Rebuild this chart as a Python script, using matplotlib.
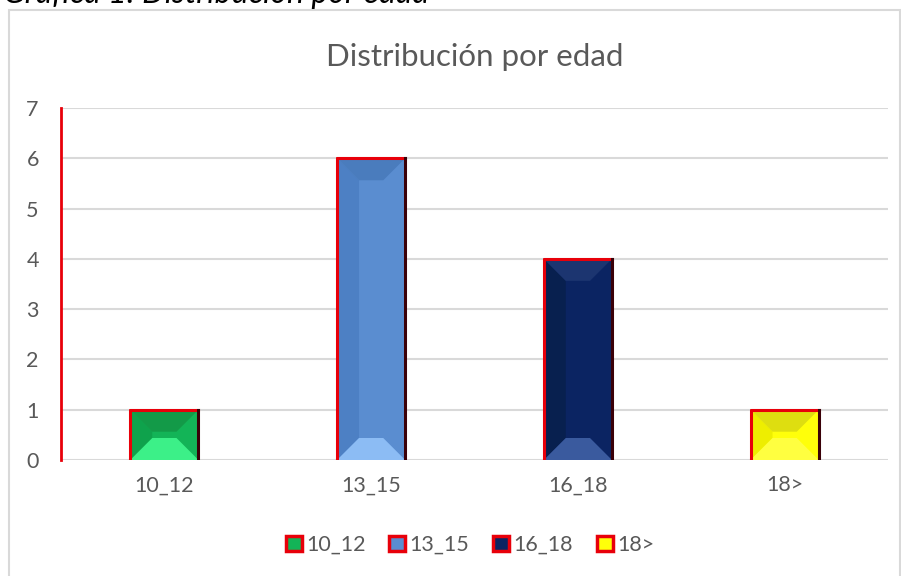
import matplotlib
matplotlib.use("Agg")
import matplotlib.pyplot as plt
from matplotlib.patches import Polygon, Rectangle, Patch

# datos
categorias = ["10_12", "13_15", "16_18", "18>"]
valores = [1, 6, 4, 1]

# colores: cuerpo, bisel superior, bisel inferior, lado izquierdo
COL_BODY = ["#13b457", "#5a8dd0", "#0b2462", "#ffff0a"]
COL_TOP = ["#139a48", "#4a7cbd", "#1c3570", "#dede10"]
COL_BOT = ["#3cf088", "#8cbcf4", "#3a5a9e", "#ffff40"]
COL_LEFT = ["#0fa24c", "#4d80c4", "#08204f", "#eeee00"]

TEXT_COLOR = "#595959"
GRID_COLOR = "#d9d9d9"
EDGE_RED = "#e8000a"
EDGE_DARK = "#3a0008"

plt.rcParams["font.family"] = ["Lato", "DejaVu Sans"]

W, H = 901, 576
fig = plt.figure(figsize=(W / 100, H / 100), dpi=100, facecolor="white")

# marco del gráfico
fig.patches.append(Rectangle((9 / W, -0.01), 891 / W, 1 - 10 / H + 0.01,
                             transform=fig.transFigure, fill=False,
                             edgecolor=GRID_COLOR, linewidth=1.5))

# leyenda de la figura, cortada en el borde superior como en el original
fig.text(3 / W, 1 - 3 / H, "Gráfica 1: Distribución por edad", fontsize=23,
         style="italic", color="black", ha="left", va="baseline")

ax = fig.add_axes([61 / W, 1 - 460 / H, 827 / W, 352 / H])
ax.set_xlim(-0.5, len(categorias) - 0.5)
ax.set_ylim(0, 7)

bar_w = 0.33
bars = ax.bar(range(len(categorias)), valores, width=bar_w, color=COL_BODY,
              edgecolor=EDGE_RED, linewidth=1.8, zorder=3)

# biselado aproximado (profundidad en píxeles convertida a datos)
px_x = (ax.get_xlim()[1] - ax.get_xlim()[0]) / 827
px_y = (ax.get_ylim()[1] - ax.get_ylim()[0]) / 352
depth = 22
for i, b in enumerate(bars):
    x0, x1 = b.get_x(), b.get_x() + b.get_width()
    y0, y1 = 0, b.get_height()
    dx = depth * px_x
    dy = min(depth * px_y, (y1 - y0) / 2 - 3 * px_y)
    ax.add_patch(Polygon([(x0, y0), (x0 + dx, y0 + dy), (x0 + dx, y1 - dy), (x0, y1)],
                         closed=True, facecolor=COL_LEFT[i], edgecolor="none", zorder=4))
    ax.add_patch(Polygon([(x0, y1), (x1, y1), (x1 - dx, y1 - dy), (x0 + dx, y1 - dy)],
                         closed=True, facecolor=COL_TOP[i], edgecolor="none", zorder=4))
    ax.add_patch(Polygon([(x0, y0), (x1, y0), (x1 - dx, y0 + dy), (x0 + dx, y0 + dy)],
                         closed=True, facecolor=COL_BOT[i], edgecolor="none", zorder=4))
    # borde rojo arriba/izquierda, oscuro a la derecha
    ax.plot([x0, x0, x1], [y0, y1, y1], color=EDGE_RED, linewidth=2.2, zorder=5,
            solid_capstyle="projecting")
    ax.plot([x1, x1], [y0, y1], color=EDGE_DARK, linewidth=2.2, zorder=5)
    ax.plot([x0, x1], [y0, y0], color="#f08080", linewidth=1.5, zorder=2)

ax.set_title("Distribución por edad", fontsize=22.5, color=TEXT_COLOR, pad=30)
ax.set_xticks(range(len(categorias)))
ax.set_xticklabels(categorias)
ax.set_yticks(range(0, 8))
ax.tick_params(axis="both", length=0, labelsize=15.5, labelcolor=TEXT_COLOR)
ax.tick_params(axis="x", pad=11)
ax.tick_params(axis="y", pad=16)
ax.grid(True, axis="y", color=GRID_COLOR, linewidth=1.5, zorder=0)
ax.set_axisbelow(True)
for s in ["top", "right", "bottom"]:
    ax.spines[s].set_visible(False)
ax.spines["left"].set_color(EDGE_RED)
ax.spines["left"].set_linewidth(2)

handles = [Patch(facecolor=COL_BODY[i], edgecolor=EDGE_RED, linewidth=2.5)
           for i in range(len(categorias))]
fig.legend(handles, categorias, loc="center", bbox_to_anchor=(470 / W, 1 - 545 / H),
           ncol=4, frameon=False, fontsize=15.5, labelcolor=TEXT_COLOR,
           handlelength=0.75, handleheight=0.75, handletextpad=0.2, columnspacing=1.1)

fig.savefig("out.png", dpi=100, facecolor="white")
